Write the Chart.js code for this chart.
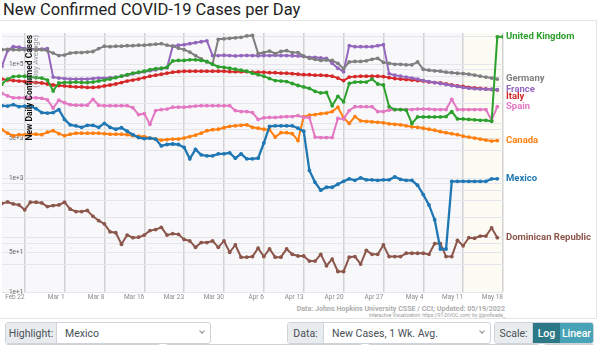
<!DOCTYPE html>
<html>
<head>
<meta charset="utf-8">
<title>New Confirmed COVID-19 Cases per Day</title>
<script src="https://cdn.jsdelivr.net/npm/chart.js@4.4.1/dist/chart.umd.min.js"></script>
<style>
  body { margin: 0; width: 600px; height: 345px; overflow: hidden; background: #fff; position: relative;
         font-family: Roboto, "Liberation Sans", sans-serif; }
  #title { position: absolute; left: 3px; top: 0; font-size: 16.5px; color: #222; white-space: nowrap; }
  #frame { position: absolute; left: -1px; top: 20px; width: 596px; height: 297px; border: 1px solid #e4e4e4; }
  #chart { position: absolute; left: 0; top: 22px; }
  .credit { position: absolute; right: 95px; color: #aeaeae; font-weight: bold; white-space: nowrap; }
  .group { position: absolute; top: 322px; height: 20px; border: 1px solid #ced4da; border-radius: 3px;
           display: flex; overflow: hidden; font-size: 10.5px; color: #495057; background: #fff; }
  .group .lab { background: #e9ecef; border-right: 1px solid #ced4da; display: flex; align-items: center; justify-content: center; }
  .group .sel { flex: 1; display: flex; align-items: center; padding-left: 8px; position: relative; }
  .chev { position: absolute; right: 6px; top: 6px; width: 3px; height: 3px; border-right: 1px solid #888;
          border-bottom: 1px solid #888; transform: rotate(45deg); }
  .btn { color: #fff; display: flex; align-items: center; justify-content: center; font-weight: 500; }
  .row2 { position: absolute; top: 344px; height: 10px; border: 1px solid #ced4da; border-radius: 3px; }
</style>
</head>
<body>
<div id="title">New Confirmed COVID-19 Cases per Day</div>
<div id="frame"></div>
<canvas id="chart" width="596" height="281"></canvas>
<div class="credit" style="top:304px;font-size:7.1px">Data: Johns Hopkins University CSSE / CCI; Updated: 05/19/2022</div>
<div class="credit" style="top:313px;font-size:4.8px;font-weight:normal;color:#999">Interactive Visualization: https://91-DIVOC.com/ by @profwade_</div>

<div class="group" style="left:5px;width:204px">
  <span class="lab" style="width:50px">Highlight:</span>
  <span class="sel">Mexico<i class="chev"></i></span>
</div>
<div class="group" style="left:287px;width:202px">
  <span class="lab" style="width:35px">Data:</span>
  <span class="sel">New Cases, 1 Wk. Avg.<i class="chev"></i></span>
</div>
<div class="group" style="left:494px;width:98px">
  <span class="lab" style="width:37px">Scale:</span>
  <span class="btn" style="width:27px;background:#2c7886">Log</span>
  <span class="btn" style="flex:1;background:#47a3b5">Linear</span>
</div>
<div class="row2" style="left:5px;width:154px"></div>
<div class="row2" style="left:165px;width:196px"></div>
<div class="row2" style="left:367px;width:171px"></div>
<div class="row2" style="left:543px;width:50px"></div>

<script>
// day offsets are counted from Feb 22; the series start four days earlier
const firstDay = -4;
const lastDay = 84;
const tickLabels = ['Feb 22', 'Mar 1', 'Mar 8', 'Mar 16', 'Mar 23', 'Mar 30', 'Apr 6',
                    'Apr 13', 'Apr 20', 'Apr 27', 'May 4', 'May 11', 'May 18'];
const yLabelValues = [10, 50, 100, 500, 1000, 5000, 10000, 50000, 100000];

// 7-day average of new cases per day
const mexico = [
  18600, 18300, 19400, 17900, 18300, 18300, 16500, 14100, 13800, 14100,
  15900, 10700, 8600, 8260, 7780, 8430, 8430, 7780, 9100, 7780,
  7190, 7630, 6640, 5780, 5130, 4930, 5030, 4830, 3660, 3880,
  3960, 3880, 3450, 2180, 3190, 2560, 2460, 2460, 2660, 2660,
  2770, 2230, 2660, 2180, 2180, 2230, 4120, 8100, 8260, 8260,
  8260, 8260, 7480, 6640, 1360, 843, 614, 690, 690, 779,
  878, 970, 913, 1010, 931, 931, 913, 931, 931, 1050,
  950, 913, 913, 748, 513, 338, 186, 57, 57, 878,
  878, 878, 878, 878, 878, 878, 970, 970
];
const unitedKingdom = [
  44700, 54500, 60200, 61400, 61400, 59000, 57800, 56700, 52400, 33800,
  46500, 47400, 47400, 48400, 47400, 47400, 48400, 50300, 52400, 54500,
  57800, 61400, 65200, 69200, 72000, 74900, 79500, 82700, 84400, 87800,
  113500, 116000, 116000, 118500, 118500, 116000, 111000, 99000, 89600, 87800,
  84400, 81100, 77900, 74900, 69200, 65200, 61400, 55600, 51300, 50300,
  49300, 45600, 42100, 39700, 37400, 33200, 31200, 31800, 18600, 27200,
  21800, 45600, 48400, 48400, 48400, 54500, 44700, 42900, 17900, 15900,
  15900, 15600, 9100, 11800, 11800, 11800, 11800, 11800, 12000, 14700,
  10900, 10900, 10700, 10500, 10300, 10300, 9900, 300000, 300000
];
const germany = [
  179000, 181000, 179000, 179000, 179000, 181000, 179000, 179000, 172000, 156000,
  141000, 144000, 156000, 159000, 159000, 162000, 166000, 187000, 206000, 202000,
  206000, 206000, 210000, 210000, 214000, 214000, 219000, 223000, 228000, 214000,
  206000, 190000, 179000, 162000, 141000, 123000, 109000, 101000, 272000, 277000,
  283000, 289000, 294000, 312000, 318000, 153000, 159000, 169000, 153000, 166000,
  172000, 159000, 159000, 138000, 126000, 121000, 116000, 118000, 116000, 103000,
  82700, 109000, 111000, 111000, 114000, 121000, 126000, 107000, 103000, 99000,
  99000, 97000, 97000, 109000, 81000, 78000, 76000, 75000, 72000, 70500,
  69000, 68000, 66500, 64000, 61400, 59000, 56700, 54500
];
const france = [
  91400, 172000, 202000, 198000, 187000, 183000, 183000, 183000, 187000, 59000,
  56700, 55600, 54500, 54500, 54500, 54500, 55600, 56700, 56700, 57800,
  59000, 61400, 63900, 67800, 70600, 73400, 76400, 79500, 82700, 86000,
  206000, 214000, 219000, 228000, 237000, 246000, 256000, 141000, 141000, 143000,
  141000, 139000, 141000, 142000, 141000, 140000, 141000, 141000, 143000, 141000,
  141000, 140000, 139000, 136000, 131000, 131000, 128000, 126000, 103000, 84400,
  73400, 210000, 202000, 202000, 202000, 202000, 210000, 219000, 67800, 63900,
  61400, 59000, 56700, 54500, 51300, 49300, 47400, 45600, 43800, 42100,
  40500, 38900, 37800, 37000, 36600, 36200, 35900, 35600
];
const italy = [
  54500, 52400, 51300, 50300, 49300, 48400, 47400, 46500, 44700, 42900,
  42100, 41300, 40500, 39700, 39700, 38900, 38900, 39700, 41300, 42900,
  44700, 47400, 50300, 52400, 54500, 57800, 61400, 63900, 66500, 69200,
  72000, 73400, 74900, 74900, 74900, 74900, 74900, 74900, 74900, 74900,
  73400, 73400, 73400, 73400, 72000, 72000, 72000, 70600, 70600, 69200,
  69200, 67800, 66500, 65200, 65200, 63900, 63900, 62700, 61400, 56700,
  51300, 59000, 60200, 61400, 61400, 61400, 61400, 60200, 57800, 55600,
  54500, 53400, 52400, 51300, 50300, 48400, 47400, 46500, 44700, 42900,
  41300, 40500, 38900, 38100, 37400, 36600, 35900, 35200
];
const spain = [
  30600, 27700, 25600, 25600, 25600, 25600, 25600, 25100, 23600, 16900,
  23200, 21000, 19400, 19000, 19000, 19000, 24100, 19000, 18600, 18600,
  18600, 18600, 18600, 17200, 13000, 13500, 8770, 15300, 15900, 16200,
  17500, 17500, 17500, 17900, 18300, 18600, 18600, 18600, 18600, 18600,
  18600, 15300, 14700, 14700, 14100, 10700, 11400, 11600, 11600, 11800,
  12000, 12000, 12500, 11600, 11600, 5230, 5130, 5130, 5130, 11100,
  10900, 15300, 17900, 17900, 17900, 17900, 14700, 14700, 15600, 15900,
  15900, 15900, 15900, 16200, 16200, 16200, 15900, 15900, 15900, 24100,
  15900, 15900, 15900, 15900, 15900, 15900, 10300, 17900
];
const canada = [
  7050, 6130, 5550, 5780, 5780, 5890, 5890, 5780, 6380, 6780,
  6010, 5550, 5890, 6130, 6130, 6130, 6130, 6130, 6010, 5890,
  5890, 5890, 5780, 5550, 5440, 5340, 5030, 4830, 4640, 4730,
  4830, 4830, 5030, 5340, 5660, 6130, 6780, 7050, 7190, 7630,
  8100, 8260, 8430, 8600, 7780, 7480, 7190, 7050, 5230, 6250,
  6250, 6010, 4550, 12000, 12700, 13000, 13500, 13800, 14700, 17500,
  11400, 9100, 12000, 10100, 9900, 9700, 9500, 9300, 8950, 8770,
  8600, 8260, 7940, 7780, 7480, 7190, 6910, 6510, 6250, 6010,
  5780, 5440, 5230, 5030, 4830, 4640, 4460, 4550
];
const dominicanRepublic = [
  359, 381, 352, 338, 277, 377, 377, 366, 316, 329,
  338, 377, 285, 259, 259, 270, 213, 179, 157, 114,
  110, 69, 100, 90, 92, 100, 120, 125, 137, 100,
  106, 103, 84, 79, 61, 74, 74, 79, 61, 79,
  50, 67, 41, 41, 42, 59, 42, 57, 41, 41,
  57, 46, 43, 43, 35, 35, 46, 29, 38, 23,
  23, 41, 42, 31, 54, 46, 46, 67, 42, 42,
  42, 48, 48, 48, 48, 46, 71, 71, 42, 42,
  81, 65, 90, 88, 96, 96, 134, 90
];

const series = [
  { label: 'Mexico', values: mexico, color: '#1f77b4' },
  { label: 'United Kingdom', values: unitedKingdom, color: '#2ca02c' },
  { label: 'Germany', values: germany, color: '#7f7f7f' },
  { label: 'France', values: france, color: '#9467bd' },
  { label: 'Italy', values: italy, color: '#d62728' },
  { label: 'Spain', values: spain, color: '#e377c2' },
  { label: 'Canada', values: canada, color: '#ff7f0e' },
  { label: 'Dominican Republic', values: dominicanRepublic, color: '#8c564b' }
];

Chart.defaults.font.family = 'Roboto, "Liberation Sans", sans-serif';

// plot background, with the most recent week tinted
const plotBackground = {
  id: 'plotBackground',
  beforeDraw(chart) {
    const { ctx, chartArea: a, scales: { x } } = chart;
    ctx.save();
    ctx.fillStyle = '#f8f8fb';
    ctx.fillRect(a.left, a.top, a.right - a.left, a.bottom - a.top);
    const from = x.getPixelForValue(77);
    ctx.fillStyle = '#fcfcf5';
    ctx.fillRect(from, a.top, a.right - from, a.bottom - a.top);
    ctx.restore();
  }
};

// rotated axis caption drawn over the lines
const axisCaption = {
  id: 'axisCaption',
  afterDatasetsDraw(chart) {
    const { ctx, chartArea } = chart;
    ctx.save();
    ctx.translate(29.5, chartArea.top + 2);
    ctx.rotate(-Math.PI / 2);
    ctx.textAlign = 'right';
    ctx.textBaseline = 'middle';
    ctx.font = 'bold 8.5px Roboto, sans-serif';
    ctx.fillStyle = '#111';
    ctx.fillText('New Daily Confirmed Cases', 0, 0);
    ctx.font = '7.5px Roboto, sans-serif';
    ctx.fillStyle = '#999';
    ctx.fillText('(7-Day Average)', 0, 7);
    ctx.restore();
  }
};

// country names at the end of each line, nudged apart when they collide
const endLabels = {
  id: 'endLabels',
  afterDatasetsDraw(chart) {
    const { ctx, chartArea } = chart;
    const items = chart.data.datasets.map((ds, i) => {
      const pts = chart.getDatasetMeta(i).data;
      return { text: ds.label, color: ds.borderColor, y: pts[pts.length - 1].y };
    }).sort((a, b) => a.y - b.y);
    for (let i = 1; i < items.length; i++) {
      items[i].y = Math.max(items[i].y, items[i - 1].y + 6.5);
    }
    ctx.save();
    ctx.font = 'bold 9.5px Roboto, sans-serif';
    ctx.textBaseline = 'middle';
    items.forEach(it => {
      ctx.fillStyle = it.color;
      ctx.fillText(it.text, chartArea.right + 3, it.y);
    });
    ctx.restore();
  }
};

new Chart(document.getElementById('chart'), {
  type: 'line',
  data: {
    datasets: series.map(s => ({
      label: s.label,
      data: s.values.map((v, i) => ({ x: firstDay + i, y: v })),
      borderColor: s.color,
      backgroundColor: s.color,
      borderWidth: s.label === 'Mexico' ? 2.3 : 2,
      pointRadius: 1.9,
      pointBorderWidth: 0,
      pointHoverRadius: 0,
      tension: 0,
      fill: false
    }))
  },
  options: {
    responsive: false,
    animation: false,
    devicePixelRatio: 1,
    layout: { padding: { left: 0, right: 93, top: 8, bottom: 0 } },
    plugins: { legend: { display: false }, tooltip: { enabled: false } },
    scales: {
      x: {
        type: 'linear',
        min: firstDay,
        max: lastDay,
        afterBuildTicks: axis => { axis.ticks = tickLabels.map((_, k) => ({ value: k * 7 })); },
        ticks: {
          autoSkip: false,
          maxRotation: 0,
          align: 'end',
          padding: 1.5,
          color: '#8a8a8a',
          font: { size: 6.5 },
          callback: (value, index) => tickLabels[index]
        },
        grid: { color: '#d2d2d2', lineWidth: 1.5, drawTicks: false },
        border: { display: false }
      },
      y: {
        type: 'logarithmic',
        min: 10,
        max: 352000,
        afterBuildTicks: axis => {
          const ticks = [];
          for (let p = 10; p <= 100000; p *= 10) {
            for (let m = 1; m <= 9; m++) {
              if (m * p <= axis.max) ticks.push({ value: m * p });
            }
          }
          axis.ticks = ticks;
        },
        afterFit: axis => { axis.width = 0; },
        ticks: {
          mirror: true,
          padding: 7,
          color: '#666',
          font: { size: 6.5 },
          callback: value => yLabelValues.includes(value) ? value.toExponential(0) : ''
        },
        grid: { color: '#e5e5ec', lineWidth: 1, drawTicks: false },
        border: { display: false }
      }
    }
  },
  plugins: [plotBackground, axisCaption, endLabels]
});
</script>
</body>
</html>
